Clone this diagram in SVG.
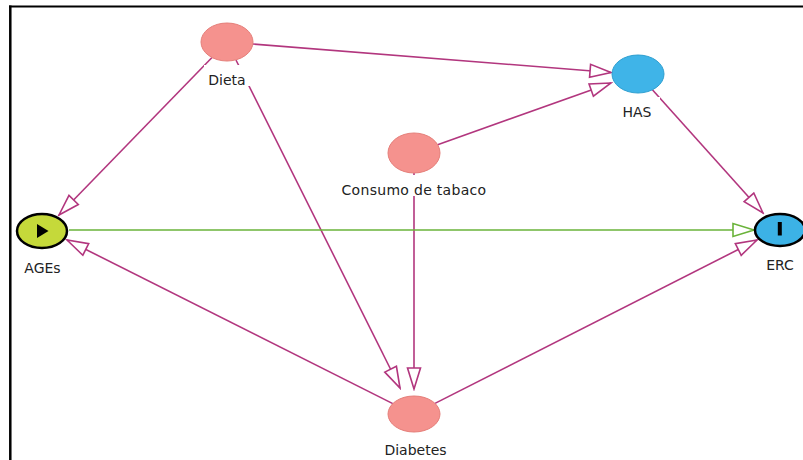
<svg xmlns="http://www.w3.org/2000/svg" width="803" height="460" viewBox="0 0 803 460">
  <defs>
    <style>
      .edge { fill: none; stroke: #b2367e; stroke-width: 1.6; }
      .edge-causal { fill: none; stroke: #6ab33a; stroke-width: 1.6; }
      .node-adj { fill: #f5928e; stroke: #e57f7a; stroke-width: 1; }
      .node-anc { fill: #3fb4e8; stroke: #2e9fd0; stroke-width: 1; }
      .label { font-family: "DejaVu Sans", "Liberation Sans", sans-serif; font-size: 14px; fill: #222; text-anchor: middle; }
      .label-bg { fill: #fff; }
    </style>
    <marker id="arrow" viewBox="-24 -8 26 16" refX="0" refY="0" markerWidth="26" markerHeight="16" markerUnits="userSpaceOnUse" orient="auto">
      <path d="M0,0 L-21,-6.5 L-21,6.5 Z" fill="#fff" stroke="#b2367e" stroke-width="1.6" stroke-linejoin="miter"/>
    </marker>
    <marker id="arrow-causal" viewBox="-24 -8 26 16" refX="0" refY="0" markerWidth="26" markerHeight="16" markerUnits="userSpaceOnUse" orient="auto">
      <path d="M0,0 L-21,-6.5 L-21,6.5 Z" fill="#fff" stroke="#6ab33a" stroke-width="1.6" stroke-linejoin="miter"/>
    </marker>
  </defs>

  <rect x="0" y="0" width="803" height="460" fill="#fff"/>
  <!-- frame -->
  <line x1="9" y1="6.5" x2="803" y2="6.5" stroke="#000" stroke-width="2"/>
  <line x1="10.3" y1="5.5" x2="10.3" y2="460" stroke="#000" stroke-width="2.5"/>

  <g id="edges">
    <line class="edge" x1="253" y1="44" x2="611" y2="72.5" marker-end="url(#arrow)"/>
    <line class="edge" x1="212" y1="57.5" x2="59" y2="215" marker-end="url(#arrow)"/>
    <line class="edge" x1="236" y1="60" x2="400" y2="388" marker-end="url(#arrow)"/>
    <line class="edge" x1="437.6" y1="144.7" x2="611" y2="83" marker-end="url(#arrow)"/>
    <line class="edge" x1="414" y1="173" x2="414" y2="389" marker-end="url(#arrow)"/>
    <line class="edge" x1="652.4" y1="89.8" x2="763" y2="213" marker-end="url(#arrow)"/>
    <line class="edge" x1="392.8" y1="403.6" x2="67" y2="240" marker-end="url(#arrow)"/>
    <line class="edge" x1="435" y1="403.4" x2="757" y2="240" marker-end="url(#arrow)"/>
    <line class="edge-causal" x1="69" y1="230" x2="754" y2="230" marker-end="url(#arrow-causal)"/>
  </g>

  <g id="node-dieta">
    <ellipse class="node-adj" cx="227" cy="42" rx="26" ry="19"/>
    <rect class="label-bg" x="204" y="65" width="46" height="21"/>
    <text class="label" x="227" y="85">Dieta</text>
  </g>

  <g id="node-has">
    <ellipse class="node-anc" cx="638" cy="74" rx="26" ry="19"/>
    <rect class="label-bg" x="614" y="97" width="46" height="21"/>
    <text class="label" x="637" y="117">HAS</text>
  </g>

  <g id="node-tabaco">
    <ellipse class="node-adj" cx="414" cy="153" rx="26" ry="20"/>
    <rect class="label-bg" x="340" y="175" width="148" height="21"/>
    <text class="label" x="414" y="195" letter-spacing="0.3">Consumo de tabaco</text>
  </g>

  <g id="node-ages">
    <ellipse cx="42" cy="231" rx="25" ry="17" fill="#c5d93a" stroke="#000" stroke-width="2.5"/>
    <path d="M37,224 L37,238 L48.5,231 Z" fill="#000"/>
    <rect class="label-bg" x="20" y="253" width="46" height="21"/>
    <text class="label" x="42.5" y="273">AGEs</text>
  </g>

  <g id="node-erc">
    <ellipse cx="780" cy="230" rx="25" ry="16" fill="#3cb2e6" stroke="#000" stroke-width="2.5"/>
    <rect x="777.8" y="222" width="4" height="13.5" fill="#000"/>
    <rect class="label-bg" x="760" y="250" width="42" height="21"/>
    <text class="label" x="780" y="270">ERC</text>
  </g>

  <g id="node-diabetes">
    <ellipse class="node-adj" cx="414" cy="414" rx="26" ry="18"/>
    <rect class="label-bg" x="380" y="435" width="70" height="21"/>
    <text class="label" x="415.5" y="455">Diabetes</text>
  </g>
</svg>
